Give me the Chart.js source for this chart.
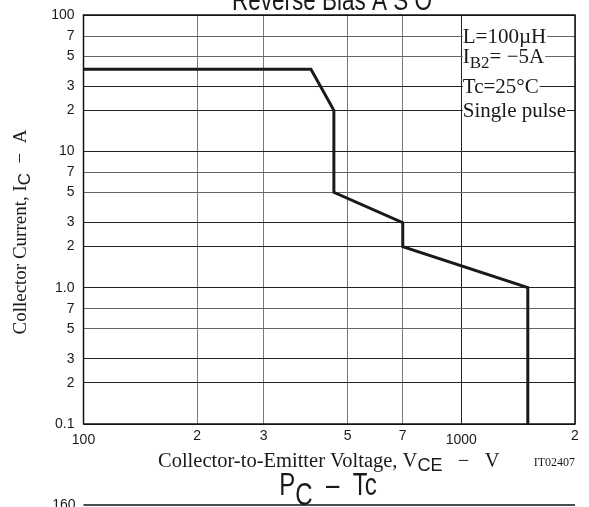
<!DOCTYPE html>
<html>
<head>
<meta charset="utf-8">
<script src="https://cdn.jsdelivr.net/npm/chart.js@4"></script>
<style>
  html, body { margin: 0; padding: 0; background: #fff; }
  #wrap { width: 589px; height: 507px; }
</style>
</head>
<body>
<div id="wrap"><canvas id="rbso" width="589" height="507"></canvas></div>
<script>
// Data (log-log)
const voltage = [100, 400, 460, 460, 700, 700, 1500, 1500];
const current = [40, 40, 20, 5, 3, 2, 1, 0.1];

// Axis ticks
const xTicks = [100, 200, 300, 500, 700, 1000, 2000];
const xTickLabels = ['100', '2', '3', '5', '7', '1000', '2'];
const yTicks = [0.1, 0.2, 0.3, 0.5, 0.7, 1, 2, 3, 5, 7, 10, 20, 30, 50, 70, 100];
const yTickLabels = ['0.1', '2', '3', '5', '7', '1.0', '2', '3', '5', '7', '10', '2', '3', '5', '7', '100'];

// Condition notes (placed on the 70/50/30/20 A gridlines)
const noteLevels = [70, 50, 30, 20];

const SANS = '"Liberation Sans", Arial, sans-serif';
const SERIF = '"Liberation Serif", "Times New Roman", serif';

// draw a run of text pieces (for subscripts)
function drawRich(ctx, parts, x, y, align) {
    let total = 0;
    parts.forEach(p => { ctx.font = p.font; total += ctx.measureText(p.t).width; });
    let cx = align === 'center' ? x - total / 2 : (align === 'right' ? x - total : x);
    parts.forEach(p => {
        ctx.font = p.font;
        ctx.fillText(p.t, cx, y + (p.dy || 0));
        cx += ctx.measureText(p.t).width;
    });
    return total;
}

// same, but stretched taller (the headings in the scan are)
function drawTall(ctx, parts, x, y, k) {
    ctx.save();
    ctx.translate(x, y);
    ctx.scale(1, k);
    drawRich(ctx, parts, 0, 0, 'center');
    ctx.restore();
}

const extras = {
    id: 'extras',
    beforeDraw(chart) {
        const ctx = chart.ctx;
        ctx.save();
        ctx.fillStyle = '#fff';
        ctx.fillRect(0, 0, chart.width, chart.height);
        ctx.restore();
    },
    afterDatasetsDraw(chart) {
        const { ctx, scales: { x, y } } = chart;
        ctx.save();
        ctx.textAlign = 'left';
        ctx.textBaseline = 'alphabetic';

        // notes with white backing so the gridlines break round them
        const f = '21px ' + SERIF;
        const fs = '17px ' + SERIF;
        const notes = [
            [{ t: 'L=100µH', font: f }],
            [{ t: 'I', font: f }, { t: 'B2', font: fs, dy: 5 }, { t: '= −5A', font: f }],
            [{ t: 'Tc=25°C', font: f }],
            [{ t: 'Single pulse', font: f }]
        ];
        const nx = x.getPixelForValue(1000) + 1.5;
        notes.forEach((parts, i) => {
            const py = y.getPixelForValue(noteLevels[i]);
            let w = 0;
            parts.forEach(p => { ctx.font = p.font; w += ctx.measureText(p.t).width; });
            ctx.fillStyle = '#fff';
            ctx.fillRect(nx, py - 9, w + 1, 18);
            ctx.fillStyle = '#1a1a1a';
            drawRich(ctx, parts, nx, py + 7, 'left');
        });
        ctx.restore();
    },
    afterDraw(chart) {
        const { ctx, chartArea: a, scales: { x, y } } = chart;
        ctx.save();
        // frame
        ctx.strokeStyle = '#111';
        ctx.lineWidth = 1.5;
        ctx.strokeRect(a.left, a.top, a.right - a.left, a.bottom - a.top);

        ctx.fillStyle = '#1a1a1a';
        // y tick labels
        ctx.font = '14px ' + SANS;
        ctx.textAlign = 'right';
        ctx.textBaseline = 'middle';
        yTicks.forEach((v, i) => {
            ctx.fillText(yTickLabels[i], a.left - 9, y.getPixelForValue(v));
        });
        // x tick labels (decades sit a little lower)
        ctx.textAlign = 'center';
        xTicks.forEach((v, i) => {
            const major = xTickLabels[i].length > 1;
            ctx.fillText(xTickLabels[i], x.getPixelForValue(v), a.bottom + (major ? 16 : 12));
        });

        // axis titles
        ctx.textAlign = 'left';
        ctx.textBaseline = 'alphabetic';
        drawRich(ctx, [
            { t: 'Collector-to-Emitter Voltage, V', font: '20.5px ' + SERIF },
            { t: 'CE', font: '18px ' + SANS, dy: 4 },
            { t: '   −   V', font: '20.5px ' + SERIF }
        ], 158, 467, 'left');
        ctx.font = '12px ' + SERIF;
        ctx.textAlign = 'right';
        ctx.fillText('IT02407', a.right, 466);

        ctx.textAlign = 'left';
        ctx.save();
        ctx.translate(26, 232);
        ctx.rotate(-Math.PI / 2);
        drawRich(ctx, [
            { t: 'Collector Current, I', font: '19px ' + SERIF },
            { t: 'C', font: '17px ' + SANS, dy: 4 },
            { t: '  −  A', font: '19px ' + SERIF }
        ], 0, 0, 'center');
        ctx.restore();

        // chart title, cut off by the top edge
        drawTall(ctx, [{ t: 'Reverse Bias A S O', font: '22.5px ' + SANS }], 332, 10, 1.3);

        // start of the next chart below
        const hf = '24px ' + SANS;
        drawTall(ctx, [
            { t: 'P', font: hf },
            { t: 'C', font: hf, dy: 7.5 },
            { t: '  –  Tc', font: hf }
        ], 328, 495, 1.3);
        ctx.font = '14px ' + SANS;
        ctx.textAlign = 'right';
        ctx.textBaseline = 'middle';
        ctx.fillText('160', a.left - 8, 505);
        ctx.beginPath();
        ctx.moveTo(a.left, 505);
        ctx.lineTo(a.right, 505);
        ctx.stroke();
        ctx.restore();
    }
};

function initializeChart() {
    const ctx = document.getElementById('rbso').getContext('2d');
    new Chart(ctx, {
        type: 'line',
        data: {
            datasets: [{
                label: 'RBSOA',
                data: voltage.map((v, i) => ({ x: v, y: current[i] })),
                borderColor: '#1a1a1a',
                borderWidth: 3,
                pointRadius: 0,
                tension: 0,
                fill: false
            }]
        },
        options: {
            responsive: false,
            devicePixelRatio: 1,
            animation: false,
            layout: {
                padding: { left: 83.5, right: 14, top: 15, bottom: 83 }
            },
            plugins: {
                legend: { display: false },
                tooltip: { enabled: false }
            },
            scales: {
                x: {
                    type: 'logarithmic',
                    min: 100,
                    max: 2000,
                    afterBuildTicks: s => { s.ticks = xTicks.map(v => ({ value: v })); },
                    afterFit: s => { s.height = 0; },
                    ticks: { display: false },
                    border: { display: false },
                    grid: {
                        drawTicks: false,
                        lineWidth: 1,
                        color: c => (c.tick && c.tick.value === 1000) ? '#222' : '#7a7a7a'
                    }
                },
                y: {
                    type: 'logarithmic',
                    min: 0.1,
                    max: 100,
                    afterBuildTicks: s => { s.ticks = yTicks.map(v => ({ value: v })); },
                    afterFit: s => { s.width = 0; },
                    ticks: { display: false },
                    border: { display: false },
                    grid: {
                        drawTicks: false,
                        lineWidth: 1,
                        color: c => {
                            const v = c.tick ? c.tick.value : 1;
                            const m = Math.round(v / Math.pow(10, Math.floor(Math.log10(v) + 1e-9)));
                            return (m === 5 || m === 7) ? '#666' : '#222';
                        }
                    }
                }
            }
        },
        plugins: [extras]
    });
}

document.addEventListener('DOMContentLoaded', initializeChart);
</script>
</body>
</html>
